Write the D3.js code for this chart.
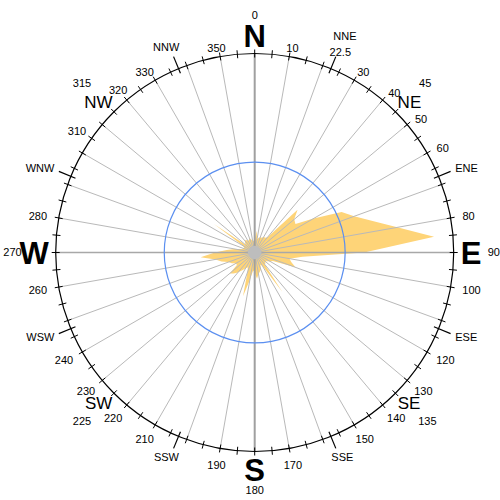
<!DOCTYPE html>
<html>
<head>
<meta charset="utf-8">
<script src="https://cdn.jsdelivr.net/npm/d3@7"></script>
<style>
html,body{margin:0;padding:0;background:#fff;}
svg{display:block;}
text{font-family:"Liberation Sans",Arial,sans-serif;fill:#000;}
</style>
</head>
<body>
<svg id="chart" width="500" height="500"></svg>
<script>
// ---- data ----
const directions = [0,5,10,15,20,25,30,35,40,45,50,55,60,65,70,75,80,85,90,95,
  100,105,110,115,120,125,130,135,140,145,150,155,160,165,170,175,180,185,190,195,
  200,205,210,215,220,225,230,235,240,245,250,255,260,265,270,275,280,285,290,295,
  300,305,310,315,320,325,330,335,340,345,350,355];
const frequency = [1.5,2.4,1.5,1.7,1.8,1.8,2.0,2.0,2.2,6.7,5.7,5.5,7.5,10.6,11.7,13.5,16.0,19.9,12.1,5.3,
  3.9,4.2,4.8,2.2,2.0,1.7,1.5,1.7,1.7,5.3,1.7,1.5,2.0,2.2,2.4,2.9,2.2,2.0,3.1,5.0,
  2.4,1.8,2.0,2.4,2.9,3.3,3.6,2.4,2.4,2.8,3.1,3.8,4.4,6.0,4.4,3.1,2.2,1.5,1.3,1.3,
  1.5,5.5,1.3,1.5,1.7,1.7,1.5,1.5,1.7,1.5,1.3,1.3];
const ringValues = [10];
const radialMax = 22;
const calmValue = 0.75;
const degreeLabels = [10,30,40,50,60,80,100,120,130,140,150,170,190,210,220,230,240,260,280,310,320,330,350];
const cardinalNames = ["N","E","S","W"];
const cardinalAngles = [0,90,180,270];
const interNames = ["NE","SE","SW","NW"];
const interAngles = [45,135,225,315];
const sixteenNames = ["NNE","ENE","ESE","SSE","SSW","WSW","WNW","NNW"];
const sixteenAngles = [22.5,67.5,112.5,157.5,202.5,247.5,292.5,337.5];
const tickAngles = d3.range(0,360,5);
const spokeAngles = d3.range(10,360,10).filter(a => a % 90 !== 0);

// ---- layout ----
const cx = 254.7, cy = 252.5, R = 199;
const svg = d3.select("#chart");
const g = svg.append("g").attr("transform", `translate(${cx},${cy})`);
const r = d3.scaleLinear().domain([0, radialMax]).range([0, R]);
const rad = d => d * Math.PI / 180;
const pt = (deg, rr) => [rr * Math.sin(rad(deg)), -rr * Math.cos(rad(deg))];

// petals
const line = d3.lineRadial()
  .angle((d, i) => rad(directions[i]))
  .radius(d => r(d))
  .curve(d3.curveLinearClosed);
g.append("path").datum(frequency)
  .attr("d", line)
  .attr("fill", "#fed478")
  .attr("stroke", "none");

// spokes
g.selectAll("line.spoke").data(spokeAngles).join("line")
  .attr("class", "spoke")
  .attr("x1", 0).attr("y1", 0)
  .attr("x2", d => pt(d, R)[0]).attr("y2", d => pt(d, R)[1])
  .attr("stroke", "#b9b9b9").attr("stroke-width", 1);

// main axes
g.append("line").attr("x1", 0).attr("y1", -R).attr("x2", 0).attr("y2", R)
  .attr("stroke", "#a0a0a0").attr("stroke-width", 2);
g.append("line").attr("x1", -R).attr("y1", 0).attr("x2", R).attr("y2", 0)
  .attr("stroke", "#a8a8a8").attr("stroke-width", 1.5);

// ring
g.selectAll("circle.ring").data(ringValues).join("circle")
  .attr("class", "ring").attr("r", d => r(d))
  .attr("fill", "none").attr("stroke", "#5b8ff0").attr("stroke-width", 1.2);

// calm circle
g.append("circle").attr("r", r(calmValue)).attr("fill", "#bdbdbd");

// outer circle
g.append("circle").attr("r", R).attr("fill", "none").attr("stroke", "#000").attr("stroke-width", 1.2);

// ticks
g.selectAll("line.tick").data(tickAngles).join("line")
  .attr("class", "tick")
  .attr("x1", d => pt(d, R - 4)[0]).attr("y1", d => pt(d, R - 4)[1])
  .attr("x2", d => pt(d, R + 4)[0]).attr("y2", d => pt(d, R + 4)[1])
  .attr("stroke", "#000").attr("stroke-width", 1);
g.selectAll("line.ltick").data(sixteenAngles).join("line")
  .attr("class", "ltick")
  .attr("x1", d => pt(d, R - 5)[0]).attr("y1", d => pt(d, R - 5)[1])
  .attr("x2", d => pt(d, R + 13)[0]).attr("y2", d => pt(d, R + 13)[1])
  .attr("stroke", "#000").attr("stroke-width", 1.2);

// label placement helper: box touches point at given radii
function place(sel, deg, r0x, r0y, fs, dx, dy) {
  const w = sel.node().getComputedTextLength();
  const hw = w / 2, hh = 0.358 * fs;
  const s = Math.sin(rad(deg)), c = Math.cos(rad(deg));
  const x = (r0x + hw) * s + (dx || 0);
  const y = -(r0y + hh) * c + (dy || 0);
  sel.attr("x", x).attr("y", y + hh).attr("text-anchor", "middle");
}

// small collision nudges near the NW corner (as in the original layout)
const nudge = {310: [-9, 12], 320: [5, -3]};

// degree labels
degreeLabels.forEach(d => {
  const t = g.append("text").attr("font-size", 11).text(String(d));
  const c = Math.cos(rad(d));
  const n = nudge[d] || [0, 0];
  place(t, d, R + 12, c > 0 ? R + 5 : R + 13, 11, n[0], n[1]);
});

// 16-point names
sixteenAngles.forEach((a, i) => {
  if (a === 22.5) {
    const t = g.append("text").attr("font-size", 11).text("22.5");
    place(t, a, R + 14, R + 14, 11);
    const n = g.append("text").attr("font-size", 11).text(sixteenNames[i]);
    place(n, a, R + 25, R + 14, 11, 0, -16);
  } else {
    const t = g.append("text").attr("font-size", 11).text(sixteenNames[i]);
    place(t, a, R + 19, R + 19, 11);
  }
});

// cardinals
cardinalNames.forEach((n, i) => {
  const t = g.append("text").attr("font-size", 31).attr("font-weight", "bold").text(n);
  place(t, cardinalAngles[i], R + 7, R + 7, 31);
  const l = g.append("text").attr("font-size", 11).text(String(cardinalAngles[i]));
  place(l, cardinalAngles[i], R + 34, R + 35, 11);
});

// intercardinals
interNames.forEach((n, i) => {
  const t = g.append("text").attr("font-size", 17).text(n);
  place(t, interAngles[i], R + 8, R + 8, 17);
  const l = g.append("text").attr("font-size", 11).text(String(interAngles[i]));
  place(l, interAngles[i], R + 36, R + 36, 11);
});
</script>
</body>
</html>
